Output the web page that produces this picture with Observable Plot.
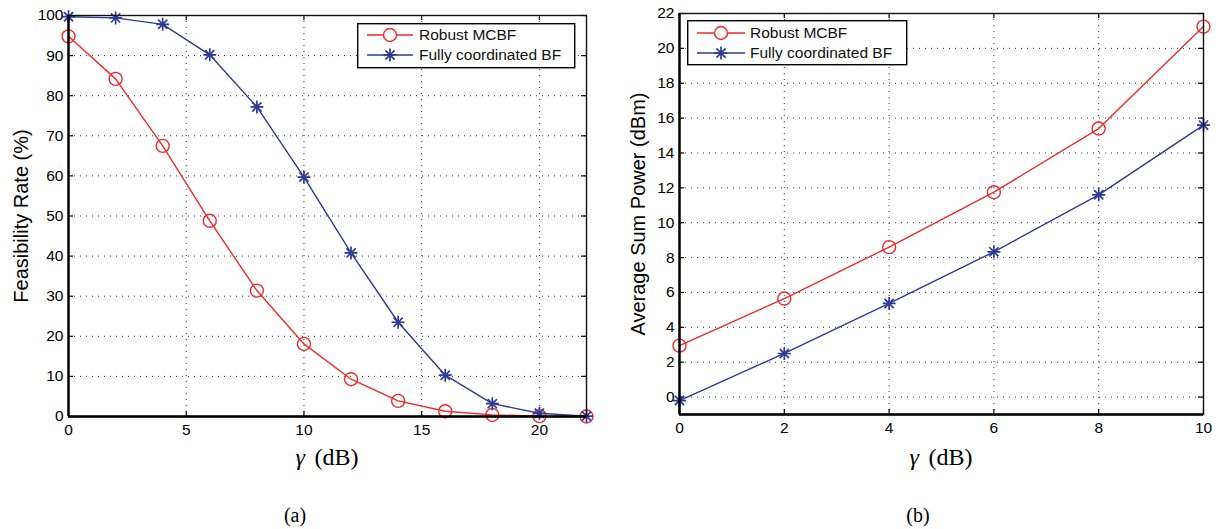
<!DOCTYPE html>
<html><head><meta charset="utf-8">
<script src="https://cdn.jsdelivr.net/npm/d3@7"></script>
<script src="https://cdn.jsdelivr.net/npm/@observablehq/plot@0.6"></script>
<style>
body{margin:0;background:#fff;}
#fig{position:relative;width:1224px;height:529px;overflow:hidden;background:#fff;font-family:"Liberation Sans",Arial,Helvetica,sans-serif;}
.panel{position:absolute;top:0;width:612px;}
.serif{position:absolute;font-family:"Liberation Serif","Times New Roman",serif;transform:translate(-50%,-50%);white-space:nowrap;color:#000;}
.serif i{margin-right:0.15em;}
.legend{position:absolute;}
</style></head><body><div id="fig"></div>
<script>
// ---- data ----
const gammaA = [0, 2, 4, 6, 8, 10, 12, 14, 16, 18, 20, 22];
const robustA = [94.8, 84.2, 67.5, 48.8, 31.4, 18.1, 9.3, 3.9, 1.3, 0.4, 0.1, 0.0];
const fullA = [99.7, 99.4, 97.8, 90.2, 77.2, 59.7, 40.8, 23.5, 10.3, 3.2, 0.8, 0.1];
const gammaB = [0, 2, 4, 6, 8, 10];
const robustB = [2.95, 5.65, 8.6, 11.75, 15.4, 21.25];
const fullB = [-0.2, 2.5, 5.37, 8.33, 11.6, 15.6];
const xTicksA = [0, 5, 10, 15, 20];
const yTicksA = [0, 10, 20, 30, 40, 50, 60, 70, 80, 90, 100];
const xTicksB = [0, 2, 4, 6, 8, 10];
const yTicksB = [0, 2, 4, 6, 8, 10, 12, 14, 16, 18, 20, 22];
const seriesNames = ["Robust MCBF", "Fully coordinated BF"];
const yLabels = ["Feasibility Rate (%)", "Average Sum Power (dBm)"];
const xLabelSymbol = "\u03b3";
const xLabelUnit = "(dB)";
const panelLabels = ["(a)", "(b)"];

// ---- styles ----
const colors = ["#ee2a2e", "#2e3a94"];
const sans = "'Liberation Sans', Arial, Helvetica, sans-serif";

const asterisk = {
  draw(ctx, size) {
    const r = Math.sqrt(size / Math.PI), d = r * Math.SQRT1_2;
    ctx.moveTo(-r, 0); ctx.lineTo(r, 0);
    ctx.moveTo(0, -r); ctx.lineTo(0, r);
    ctx.moveTo(-d, -d); ctx.lineTo(d, d);
    ctx.moveTo(-d, d); ctx.lineTo(d, -d);
  }
};

function panel(o) {
  const {xs, ys1, ys2, xDomain, yDomain, xTicks, yTicks, width, height, ml, mr, mt, mb, yLabel, yLabelDx} = o;
  const pw = width - ml - mr, ph = height - mt - mb;
  const d1 = xs.map((x, i) => ({x, y: ys1[i]}));
  const d2 = xs.map((x, i) => ({x, y: ys2[i]}));
  const grid = {stroke: "#333", strokeWidth: 1, strokeDasharray: "1,5"};
  return Plot.plot({
    width, height, marginLeft: ml, marginRight: mr, marginTop: mt, marginBottom: mb,
    x: {domain: xDomain}, y: {domain: yDomain},
    style: {fontFamily: sans, fontSize: "15px", color: "#000", background: "transparent", overflow: "visible"},
    marks: [
      Plot.ruleX(xTicks, grid),
      Plot.ruleY(yTicks, grid),
      Plot.ruleX(xTicks, {insetTop: ph - 5, stroke: "#000", strokeWidth: 1.2}),
      Plot.ruleX(xTicks, {insetBottom: ph - 5, stroke: "#000", strokeWidth: 1.2}),
      Plot.ruleY(yTicks, {insetRight: pw - 5, stroke: "#000", strokeWidth: 1.2}),
      Plot.ruleY(yTicks, {insetLeft: pw - 5, stroke: "#000", strokeWidth: 1.2}),
      Plot.line(d1, {x: "x", y: "y", stroke: colors[0], strokeWidth: 1.4}),
      Plot.line(d2, {x: "x", y: "y", stroke: colors[1], strokeWidth: 1.4}),
      Plot.dot(d1, {x: "x", y: "y", r: 6.5, stroke: colors[0], fill: "none", strokeWidth: 1.4}),
      Plot.dot(d2, {x: "x", y: "y", r: 6.5, symbol: asterisk, stroke: colors[1], fill: "none", strokeWidth: 1.7}),
      Plot.frame({stroke: "#111", strokeWidth: 1.4}),
      Plot.ruleX([xDomain[0]], {stroke: "#000", strokeWidth: 2.4}),
      Plot.ruleY([yDomain[0]], {stroke: "#000", strokeWidth: 2.4}),
      Plot.axisX(xTicks, {tickSize: 0, tickPadding: 7, label: null, fontSize: 15.5}),
      Plot.axisY(yTicks, {tickSize: 0, tickPadding: 5, label: null, fontSize: 15.5}),
      Plot.text([yLabel], {text: d => d, frameAnchor: "left", textAnchor: "middle", rotate: -90, dx: yLabelDx, fontSize: 20})
    ]
  });
}

const fig = document.getElementById("fig");

function addPanel(left, plot) {
  const div = document.createElement("div");
  div.className = "panel";
  div.style.left = left + "px";
  div.appendChild(plot);
  fig.appendChild(div);
}

addPanel(0, panel({
  xs: gammaA, ys1: robustA, ys2: fullA, xDomain: [0, 22], yDomain: [0, 100],
  xTicks: xTicksA, yTicks: yTicksA, width: 612, height: 440,
  ml: 68, mr: 26, mt: 15, mb: 24, yLabel: yLabels[0], yLabelDx: -47
}));
addPanel(612, panel({
  xs: gammaB, ys1: robustB, ys2: fullB, xDomain: [0, 10], yDomain: [-1, 22],
  xTicks: xTicksB, yTicks: yTicksB, width: 612, height: 440,
  ml: 67, mr: 21, mt: 13, mb: 26, yLabel: yLabels[1], yLabelDx: -41
}));

function addText(parts, x, y, size) {
  const el = document.createElement("div");
  el.className = "serif";
  parts.forEach(p => {
    if (p.italic) { const i = document.createElement("i"); i.textContent = p.t; el.appendChild(i); }
    else el.appendChild(document.createTextNode(p.t));
  });
  el.style.left = x + "px";
  el.style.top = y + "px";
  el.style.fontSize = size + "px";
  fig.appendChild(el);
}
const xl = [{t: xLabelSymbol, italic: true}, {t: " " + xLabelUnit}];
addText(xl, 327, 457, 24);
addText(xl, 941, 457, 24);
addText([{t: panelLabels[0]}], 295, 515, 20);
addText([{t: panelLabels[1]}], 918, 515, 20);

function addLegend(left, top, w, h, rows, s0, s1, tx) {
  const div = d3.select(fig).append("div").attr("class", "legend")
    .style("left", left + "px").style("top", top + "px");
  const svg = div.append("svg").attr("width", w + 2).attr("height", h + 2)
    .style("display", "block").style("overflow", "visible");
  svg.append("rect").attr("x", 0.7).attr("y", 0.7).attr("width", w).attr("height", h)
    .attr("fill", "#fff").attr("stroke", "#000").attr("stroke-width", 1.4);
  seriesNames.forEach((name, i) => {
    const g = svg.append("g").attr("transform", `translate(0,${rows[i]})`);
    g.append("line").attr("x1", s0).attr("x2", s1).attr("y1", 0).attr("y2", 0)
      .attr("stroke", colors[i]).attr("stroke-width", 1.4);
    const cx = (s0 + s1) / 2;
    if (i === 0) {
      g.append("circle").attr("cx", cx).attr("cy", 0).attr("r", 6.5)
        .attr("fill", "#fff").attr("stroke", colors[i]).attr("stroke-width", 1.4);
    } else {
      const p = d3.path(); asterisk.draw(p, Math.PI * 6.5 * 6.5);
      g.append("path").attr("d", p.toString()).attr("transform", `translate(${cx},0)`)
        .attr("fill", "none").attr("stroke", colors[i]).attr("stroke-width", 1.7);
    }
    g.append("text").attr("x", tx).attr("y", 0).attr("dy", "0.35em")
      .attr("font-family", sans).attr("font-size", 15.5).attr("fill", "#111").text(name);
  });
}
addLegend(357, 23, 217, 44, [12, 32], 10, 56, 62);
addLegend(687, 20, 219, 44, [13, 33], 10, 58, 63);
</script></body></html>
